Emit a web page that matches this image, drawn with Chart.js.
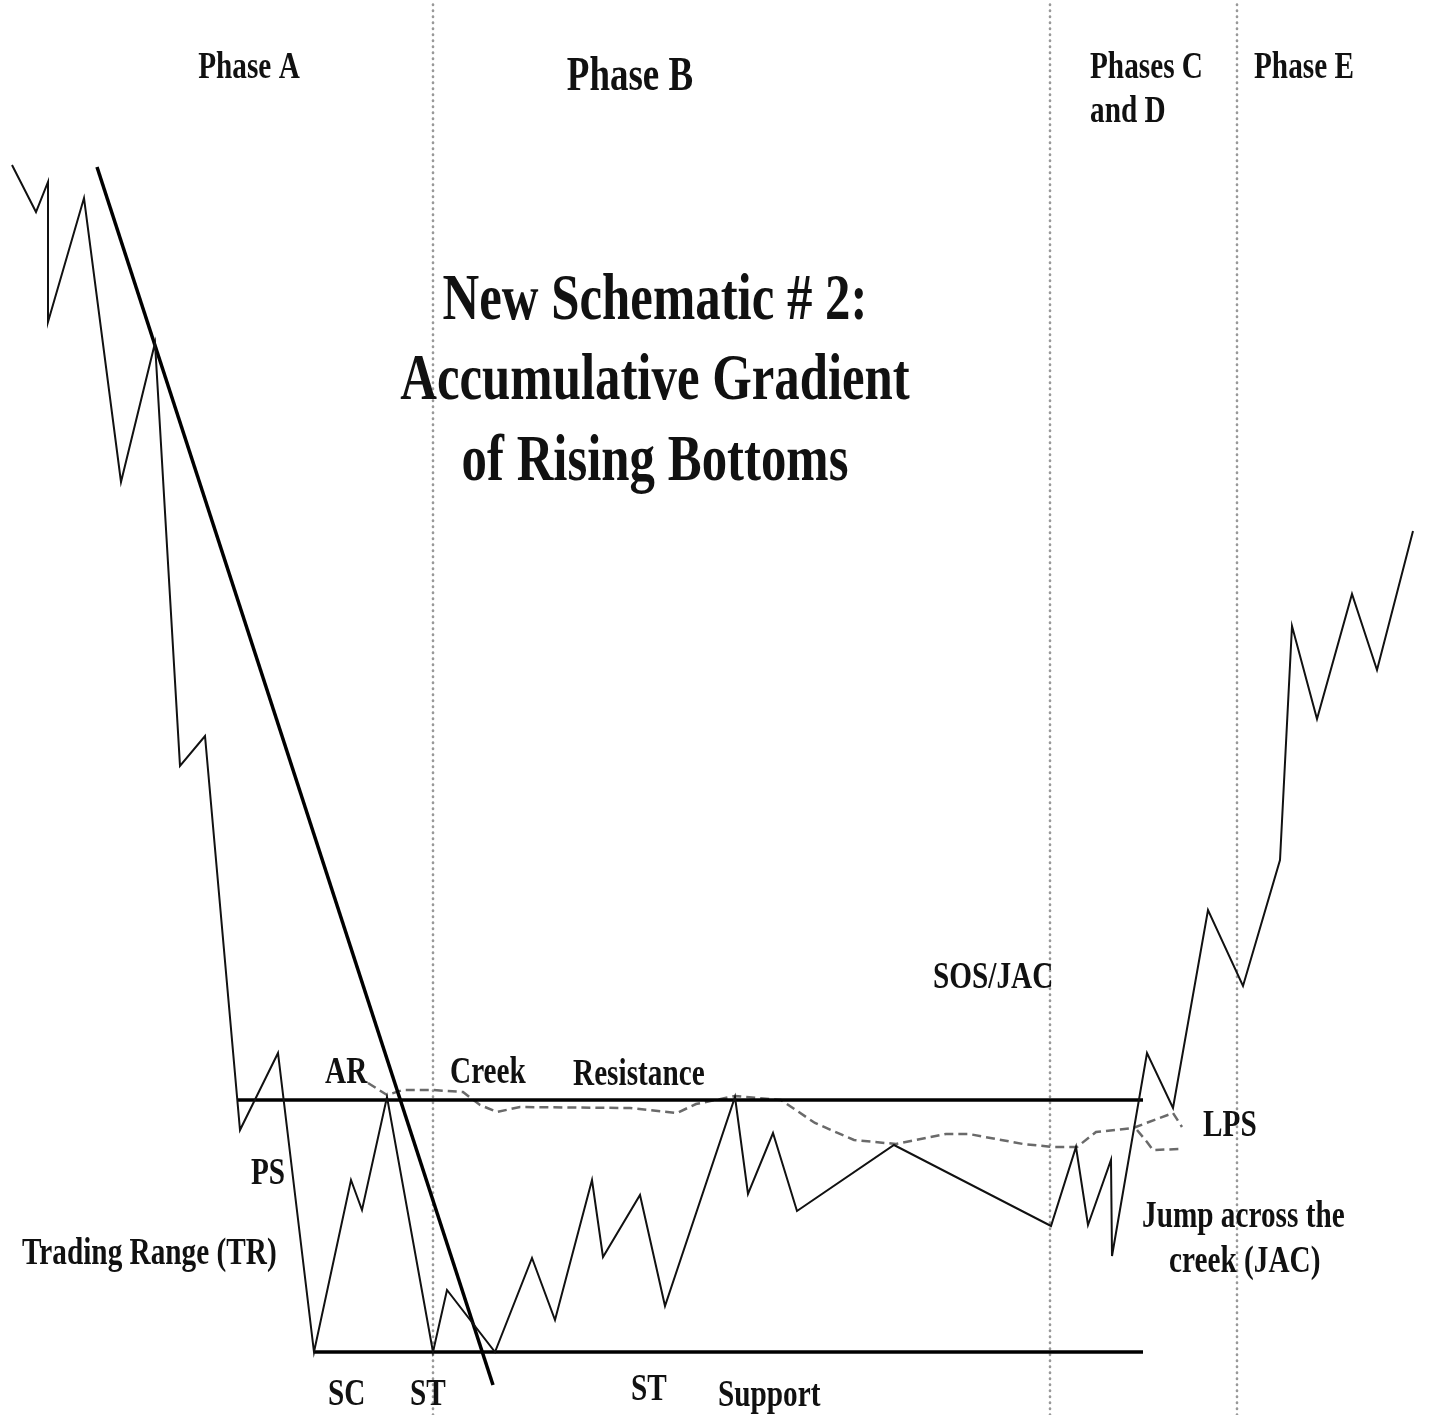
<!DOCTYPE html>
<html>
<head>
<meta charset="utf-8">
<title>New Schematic # 2: Accumulative Gradient of Rising Bottoms</title>
<script src="https://cdn.jsdelivr.net/npm/chart.js@4.4.1/dist/chart.umd.min.js"></script>
<style>
    html, body { margin: 0; padding: 0; background: #fff; }
    #wrap { width: 1442px; height: 1415px; }
</style>
</head>
<body>
<div id="wrap"><canvas id="schematic" width="1442" height="1415"></canvas></div>
<script>
// Price path (time, price)
const priceTime = [1.2, 3.6, 4.8, 4.8, 8.4, 12.1, 15.5, 18.0, 20.5, 24.0, 27.8, 31.4, 35.1, 36.2, 38.7,
    43.3, 44.7, 49.5, 53.2, 55.5, 59.2, 60.3, 64.0, 66.5, 73.5, 74.8, 77.3, 79.7, 89.4,
    105.1, 107.6, 108.8, 111.1, 111.2, 114.7, 117.3, 120.8, 124.3, 128.0, 129.2, 131.7, 135.2, 137.7, 141.3];
const priceValue = [125.0, 120.3, 123.3, 109.3, 121.7, 93.3, 107.2, 64.9, 67.9, 28.5, 36.2, 6.3, 23.5, 20.5, 31.8,
    6.3, 12.5, 6.3, 15.7, 9.5, 23.5, 15.8, 22.0, 10.9, 31.8, 22.1, 28.2, 20.4, 27.0,
    18.9, 26.8, 19.0, 25.5, 15.9, 36.2, 30.7, 50.5, 42.9, 55.5, 78.9, 69.6, 82.1, 74.5, 88.4];

// Downtrend line
const trendTime = [9.7, 49.3];
const trendValue = [124.8, 3.0];

// Trading range boundaries
const resistanceLevel = 31.5;
const supportLevel = 6.3;
const resistanceSpan = [23.8, 114.3];
const supportSpan = [31.4, 114.3];

// The "creek" (dashed wavy resistance)
const creekTime = [36.8, 38.7, 40.3, 43.3, 46.3, 48.0, 49.7, 52.0, 63.0, 67.7, 69.6, 73.5, 78.1, 81.5, 85.4,
    89.6, 94.6, 96.9, 102.3, 105.3, 107.7, 109.6, 113.3, 117.3, 118.2];
const creekValue = [33.2, 32.0, 32.5, 32.5, 32.3, 31.0, 30.3, 30.8, 30.7, 30.2, 31.1, 31.9, 31.5, 29.2, 27.5,
    27.1, 28.1, 28.1, 27.1, 26.8, 26.8, 28.3, 28.7, 30.2, 28.8];
const creekTailTime = [113.7, 114.7, 115.3, 118.0];
const creekTailValue = [28.5, 27.3, 26.5, 26.6];

// Phase boundaries (dotted verticals)
const phaseBounds = [43.3, 105.0, 123.7];

const xMax = 144.2;
const yMax = 141.5;

// Text on the schematic
const annotations = [
    { text: 'Phase A', x: 24.9, y: 133.7, size: 38, align: 'center' },
    { text: 'Phase B', x: 63.0, y: 132.5, size: 48, align: 'center' },
    { text: 'Phases C', x: 109.0, y: 133.7, size: 38 },
    { text: 'and D', x: 109.0, y: 129.3, size: 38 },
    { text: 'Phase E', x: 125.4, y: 133.7, size: 38 },
    { text: 'New Schematic # 2:', x: 65.5, y: 109.6, size: 66, align: 'center' },
    { text: 'Accumulative Gradient', x: 65.5, y: 101.6, size: 66, align: 'center' },
    { text: 'of Rising Bottoms', x: 65.5, y: 93.5, size: 66, align: 'center' },
    { text: 'SOS/JAC', x: 93.3, y: 42.7, size: 38 },
    { text: 'AR', x: 32.5, y: 33.2, size: 38 },
    { text: 'Creek', x: 45.0, y: 33.2, size: 38 },
    { text: 'Resistance', x: 57.3, y: 33.0, size: 38 },
    { text: 'PS', x: 25.1, y: 23.1, size: 38 },
    { text: 'Trading Range (TR)', x: 2.2, y: 15.1, size: 38 },
    { text: 'LPS', x: 120.3, y: 27.9, size: 38 },
    { text: 'Jump across the', x: 114.2, y: 18.8, size: 38 },
    { text: 'creek (JAC)', x: 116.9, y: 14.3, size: 38 },
    { text: 'SC', x: 32.8, y: 1.0, size: 38 },
    { text: 'ST', x: 41.0, y: 1.0, size: 38 },
    { text: 'ST', x: 63.1, y: 1.5, size: 38 },
    { text: 'Support', x: 71.8, y: 0.9, size: 38 }
];

// Helper to pair up x and y arrays for a linear scale
function toPoints(xs, ys) {
    return xs.map((x, i) => ({ x: x, y: ys[i] }));
}

// Draws the labels in a condensed bold serif, like the original scan
const schematicText = {
    id: 'schematicText',
    afterDatasetsDraw(chart) {
        const ctx = chart.ctx;
        const xs = chart.scales.x;
        const ys = chart.scales.y;
        annotations.forEach(function(a) {
            ctx.save();
            ctx.font = 'bold ' + a.size + 'px "Liberation Serif", "Times New Roman", serif';
            ctx.fillStyle = '#111';
            ctx.textAlign = a.align || 'left';
            ctx.textBaseline = 'alphabetic';
            ctx.translate(xs.getPixelForValue(a.x), ys.getPixelForValue(a.y));
            ctx.scale(0.77, 1);
            ctx.fillText(a.text, 0, 0);
            ctx.restore();
        });
    }
};

const datasets = [
    {
        label: 'Price',
        data: toPoints(priceTime, priceValue),
        borderColor: '#111',
        borderWidth: 2
    },
    {
        label: 'Downtrend',
        data: toPoints(trendTime, trendValue),
        borderColor: '#000',
        borderWidth: 3.5
    },
    {
        label: 'Resistance',
        data: toPoints(resistanceSpan, [resistanceLevel, resistanceLevel]),
        borderColor: '#000',
        borderWidth: 3.5
    },
    {
        label: 'Support',
        data: toPoints(supportSpan, [supportLevel, supportLevel]),
        borderColor: '#000',
        borderWidth: 3.5
    },
    {
        label: 'Creek',
        data: toPoints(creekTime, creekValue),
        borderColor: '#6a6a6a',
        borderWidth: 2.5,
        borderDash: [9, 5]
    },
    {
        label: 'Creek tail',
        data: toPoints(creekTailTime, creekTailValue),
        borderColor: '#6a6a6a',
        borderWidth: 2.5,
        borderDash: [9, 5]
    }
];

// Dotted phase separators, round caps make small dots
phaseBounds.forEach(function(b, i) {
    datasets.push({
        label: 'Phase boundary ' + (i + 1),
        data: toPoints([b, b], [0, yMax]),
        borderColor: '#999',
        borderWidth: 2.6,
        borderDash: [0.4, 5.6],
        borderCapStyle: 'round'
    });
});

const chart = new Chart(document.getElementById('schematic'), {
    type: 'line',
    data: { datasets: datasets },
    options: {
        responsive: false,
        animation: false,
        devicePixelRatio: 1,
        layout: { padding: 0 },
        elements: {
            point: { radius: 0, hoverRadius: 0 },
            line: { tension: 0, fill: false, borderJoinStyle: 'miter', borderCapStyle: 'butt' }
        },
        scales: {
            x: { type: 'linear', min: 0, max: xMax, display: false },
            y: { type: 'linear', min: 0, max: yMax, display: false }
        },
        plugins: {
            legend: { display: false },
            tooltip: { enabled: false }
        }
    },
    plugins: [schematicText]
});
</script>
</body>
</html>
